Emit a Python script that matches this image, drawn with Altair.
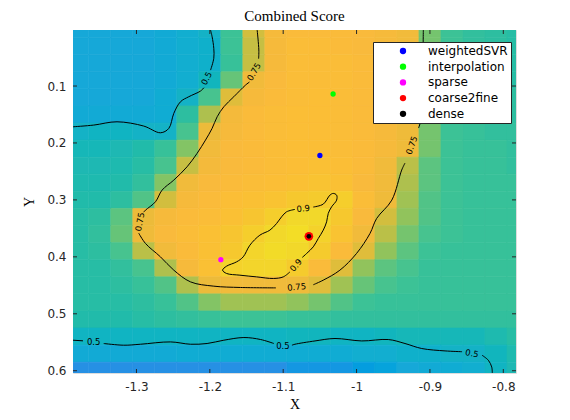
import altair as alt
import pandas as pd

# ---------------- data ----------------
X_CENTERS = [-1.38, -1.35, -1.32, -1.29, -1.26, -1.23, -1.20, -1.17, -1.14, -1.11, -1.08,
             -1.05, -1.02, -0.99, -0.96, -0.93, -0.90, -0.87, -0.84, -0.81, -0.78]
Y_CENTERS = [0.00, 0.03, 0.06, 0.09, 0.12, 0.15, 0.18, 0.21, 0.24, 0.27, 0.30,
             0.33, 0.36, 0.39, 0.42, 0.45, 0.48, 0.51, 0.54, 0.57, 0.60]
CELL = 0.03

SCORE = [
    [.45, .45, .45, .45, .46, .48, .50, .61, .73, .79, .81, .81, .81, .80, .79, .77, .66, .61, .59, .58, .57],
    [.45, .45, .45, .45, .46, .48, .49, .61, .72, .79, .82, .82, .81, .80, .79, .77, .66, .61, .59, .58, .57],
    [.45, .45, .45, .45, .46, .48, .49, .60, .72, .79, .82, .82, .82, .81, .79, .77, .66, .61, .59, .58, .57],
    [.45, .45, .45, .45, .46, .48, .52, .65, .77, .80, .82, .82, .82, .81, .79, .77, .66, .61, .59, .58, .57],
    [.45, .45, .45, .45, .47, .50, .62, .74, .79, .81, .82, .83, .82, .81, .79, .77, .66, .61, .60, .59, .58],
    [.46, .46, .46, .46, .47, .58, .70, .78, .81, .82, .83, .83, .82, .81, .79, .77, .66, .61, .60, .59, .58],
    [.50, .51, .51, .50, .50, .62, .75, .79, .81, .82, .83, .83, .82, .81, .79, .76, .66, .61, .60, .59, .59],
    [.53, .53, .54, .56, .60, .67, .77, .80, .81, .82, .83, .83, .82, .81, .79, .76, .66, .61, .60, .60, .59],
    [.54, .54, .55, .57, .62, .72, .78, .80, .81, .82, .83, .84, .83, .81, .77, .71, .64, .61, .60, .60, .59],
    [.55, .55, .56, .59, .67, .77, .80, .81, .82, .83, .84, .85, .84, .80, .77, .70, .64, .61, .60, .60, .60],
    [.56, .56, .58, .63, .73, .79, .81, .83, .84, .85, .87, .88, .89, .82, .76, .69, .63, .61, .60, .60, .60],
    [.57, .58, .64, .75, .79, .81, .82, .84, .86, .89, .92, .92, .87, .80, .73, .68, .63, .61, .60, .60, .60],
    [.57, .59, .65, .76, .80, .82, .84, .86, .89, .92, .94, .90, .85, .77, .71, .66, .62, .61, .60, .60, .60],
    [.57, .58, .62, .71, .77, .81, .84, .87, .91, .93, .92, .88, .81, .74, .68, .64, .61, .60, .60, .60, .60],
    [.57, .57, .59, .62, .70, .79, .84, .90, .91, .91, .88, .81, .74, .68, .64, .62, .60, .60, .60, .60, .60],
    [.57, .57, .58, .60, .63, .70, .75, .77, .77, .77, .76, .74, .69, .65, .62, .61, .60, .60, .60, .60, .60],
    [.57, .57, .57, .58, .60, .63, .67, .69, .69, .69, .68, .66, .63, .61, .60, .60, .60, .60, .60, .60, .60],
    [.56, .56, .56, .57, .58, .59, .60, .61, .61, .61, .60, .60, .59, .59, .59, .59, .59, .59, .59, .59, .59],
    [.51, .51, .51, .51, .51, .51, .51, .51, .51, .51, .52, .52, .51, .51, .52, .53, .53, .53, .53, .55, .57],
    [.46, .46, .46, .46, .46, .47, .47, .47, .47, .47, .47, .47, .47, .48, .48, .49, .49, .50, .50, .52, .55],
    [.41, .41, .41, .41, .41, .41, .41, .41, .41, .41, .42, .42, .42, .43, .44, .45, .46, .47, .48, .51, .54],
]

# colour map (parula-like) stops
HEAT_STOPS = [0.38, 0.41, 0.45, 0.48, 0.50, 0.54, 0.58, 0.61, 0.65, 0.70, 0.75, 0.80, 0.83, 0.87, 0.92, 0.96]
HEAT_COLORS = ["#2C85EA", "#2690E4", "#16A8D8", "#12AED0", "#14B2C6", "#1EB8B3", "#2DBEA0", "#3CC296",
               "#66C478", "#AEC04E", "#ECBB3A", "#F9BA3C", "#FBBE36", "#F6C82E", "#F2D82A", "#F3E322"]

# contour segments (traced)
CONTOUR_SEGMENTS = {
    "A": [(-1.3865, 0.1716), (-1.3583, 0.1686), (-1.3265, 0.1628), (-1.2901, 0.1703), (-1.2673, 0.1821),
          (-1.2559, 0.1744), (-1.2491, 0.1480), (-1.2400, 0.1276), (-1.2287, 0.1188), (-1.2127, 0.1088),
          (-1.2080, 0.1030)],
    "B": [(-1.1990, 0.0720), (-1.1946, 0.0513), (-1.1946, 0.0338), (-1.1969, 0.0134), (-1.1991, 0.0016)],
    "C": [(-1.1355, 0.0016), (-1.1332, 0.0367), (-1.1335, 0.0520)],
    "D": [(-1.1460, 0.0930), (-1.1513, 0.0983), (-1.1673, 0.1188), (-1.1809, 0.1364), (-1.1900, 0.1540),
          (-1.1969, 0.1744), (-1.2059, 0.1949), (-1.2174, 0.2183), (-1.2310, 0.2418), (-1.2491, 0.2652),
          (-1.2651, 0.2828), (-1.2741, 0.3033), (-1.2877, 0.3180), (-1.2901, 0.3215)],
    "E": [(-1.2969, 0.3584), (-1.2877, 0.3765), (-1.2673, 0.4000), (-1.2491, 0.4234), (-1.2263, 0.4440),
          (-1.1946, 0.4515), (-1.1582, 0.4538), (-1.1100, 0.4545)],
    "F": [(-1.0590, 0.4490), (-1.0455, 0.4410), (-1.0227, 0.4234), (-1.0000, 0.3940), (-0.9817, 0.3589),
          (-0.9726, 0.3325), (-0.9520, 0.3004), (-0.9385, 0.2476), (-0.9340, 0.2353)],
    "G": [(-0.9156, 0.1738), (-0.9135, 0.1656), (-0.9120, 0.1200), (-0.9100, 0.0700), (-0.9090, 0.0016)],
    "H": [(-1.0590, 0.3125), (-1.0454, 0.3074), (-1.0363, 0.2916), (-1.0318, 0.2886), (-1.0272, 0.2916),
          (-1.0272, 0.3004), (-1.0340, 0.3121), (-1.0386, 0.3237), (-1.0408, 0.3385), (-1.0454, 0.3531),
          (-1.0522, 0.3677), (-1.0590, 0.3824), (-1.0680, 0.3940), (-1.0740, 0.4010)],
    "I": [(-1.0908, 0.4264), (-1.0999, 0.4352), (-1.1135, 0.4380), (-1.1362, 0.4352), (-1.1590, 0.4322),
          (-1.1772, 0.4292), (-1.1826, 0.4234), (-1.1772, 0.4164), (-1.1635, 0.4088), (-1.1545, 0.4000),
          (-1.1454, 0.3795), (-1.1318, 0.3619), (-1.1181, 0.3531), (-1.1090, 0.3414), (-1.1022, 0.3297),
          (-1.0954, 0.3209), (-1.0840, 0.3167)],
    "J": [(-1.3865, 0.5464), (-1.3729, 0.5475)],
    "K": [(-1.3446, 0.5522), (-1.3174, 0.5552), (-1.2946, 0.5535), (-1.2536, 0.5494), (-1.2263, 0.5535),
          (-1.2037, 0.5522), (-1.1809, 0.5464), (-1.1536, 0.5417), (-1.1308, 0.5452), (-1.1127, 0.5522)],
    "L": [(-1.0881, 0.5552), (-1.0840, 0.5535), (-1.0567, 0.5477), (-1.0294, 0.5434), (-0.9930, 0.5477),
          (-0.9568, 0.5452), (-0.9340, 0.5522), (-0.9112, 0.5610), (-0.8794, 0.5652), (-0.8562, 0.5666)],
    "M": [(-0.8290, 0.5728), (-0.8204, 0.5816), (-0.8158, 0.5934), (-0.8150, 0.6044)],
}

LABEL_TEXT = ["0.5", "0.75", "0.75", "0.75", "0.75", "0.9", "0.9", "0.5", "0.5", "0.5"]
LABEL_X = [-1.2045, -1.1400, -1.2955, -1.0817, -0.9250, -1.0727, -1.0827, -1.3583, -1.1004, -0.8426]
LABEL_Y = [0.0865, 0.0749, 0.3385, 0.4528, 0.2040, 0.3150, 0.4146, 0.5494, 0.5561, 0.5693]
LABEL_ANGLE = [298, 300, 280, 355, 290, 355, 310, 0, 0, 10]

METHODS = ["weightedSVR", "interpolation", "sparse", "coarse2fine", "dense"]
METHOD_X = [-1.050, -1.032, -1.185, -1.065, -1.065]
METHOD_Y = [0.222, 0.114, 0.405, 0.364, 0.364]
METHOD_COLORS = ["#0000FF", "#00FF00", "#FF00FF", "#FF0000", "#000000"]
METHOD_SIZES = [28, 28, 28, 75, 22]

X_TICKS = [-1.3, -1.2, -1.1, -1, -0.9, -0.8]
Y_TICKS = [0.1, 0.2, 0.3, 0.4, 0.5, 0.6]
X_DOMAIN = [-1.3865, -0.7827]
Y_DOMAIN = [0.0016, 0.604]

# ---------------- frames ----------------
heat_rows = []
for j, yc in enumerate(Y_CENTERS):
    for i, xc in enumerate(X_CENTERS):
        heat_rows.append({"x0": xc - CELL / 2, "x1": xc + CELL / 2,
                          "y0": yc - CELL / 2, "y1": yc + CELL / 2, "score": SCORE[j][i]})
heat_df = pd.DataFrame(heat_rows)

cont_rows = []
for seg, pts in CONTOUR_SEGMENTS.items():
    for k, (cx, cy) in enumerate(pts):
        cont_rows.append({"seg": seg, "ord": k, "x": cx, "y": cy})
cont_df = pd.DataFrame(cont_rows)

lab_df = pd.DataFrame({"t": LABEL_TEXT, "x": LABEL_X, "y": LABEL_Y, "a": LABEL_ANGLE})
pts_df = pd.DataFrame({"name": METHODS, "x": METHOD_X, "y": METHOD_Y, "sz": METHOD_SIZES})
xt_df = pd.DataFrame({"v": X_TICKS})
yt_df = pd.DataFrame({"v": Y_TICKS})

W, H = 443, 343
AX = "#262626"

xs = alt.Scale(domain=X_DOMAIN, nice=False, zero=False)
ys = alt.Scale(domain=Y_DOMAIN, nice=False, zero=False, reverse=True)

x_axis = alt.Axis(values=X_TICKS, labelExpr="'' + datum.value", ticks=False, domain=False, grid=False,
                  title="X", titleFont="Liberation Serif", titleFontSize=14, titleFontWeight="normal",
                  titleColor="#000", labelFont="DejaVu Sans", labelFontSize=12, labelColor=AX,
                  labelPadding=8, titlePadding=5, labelFlush=False, labelOverlap=False)
y_axis = alt.Axis(values=Y_TICKS, labelExpr="'' + datum.value", ticks=False, domain=False, grid=False,
                  title="Y", titleFont="Liberation Serif", titleFontSize=14, titleFontWeight="normal",
                  titleColor="#000", labelFont="DejaVu Sans", labelFontSize=12, labelColor=AX,
                  labelPadding=7, titlePadding=10, labelFlush=False, labelOverlap=False)


def X(f):
    return alt.X(f, type="quantitative", scale=xs, axis=x_axis)


def Y(f):
    return alt.Y(f, type="quantitative", scale=ys, axis=y_axis)


heat_scale = alt.Scale(type="linear", domain=HEAT_STOPS, range=HEAT_COLORS, clamp=True)

heat = alt.Chart(heat_df).mark_rect(clip=True, strokeWidth=0.6).encode(
    x=X("x0"), x2="x1", y=Y("y0"), y2="y1",
    fill=alt.Fill("score:Q", scale=heat_scale, legend=None),
    stroke=alt.Stroke("score:Q", scale=heat_scale, legend=None),
)

lines = alt.Chart(cont_df).mark_line(color="#000", strokeWidth=1, interpolate="catmull-rom", clip=True).encode(
    x=X("x"), y=Y("y"), detail="seg:N", order="ord:Q"
)

labels = alt.Chart(lab_df).mark_text(font="DejaVu Sans", fontSize=8.5, color="#000").encode(
    x=X("x"), y=Y("y"), text="t:N", angle=alt.Angle("a:Q", scale=None)
)

points = alt.Chart(pts_df).mark_circle(opacity=1).encode(
    x=X("x"), y=Y("y"),
    color=alt.Color("name:N", scale=alt.Scale(domain=METHODS, range=METHOD_COLORS),
                    legend=alt.Legend(title=None, orient="none", legendX=300, legendY=12,
                                      fillColor="white", strokeColor=AX, padding=3,
                                      symbolType="circle", symbolSize=40, symbolStrokeWidth=0,
                                      symbolOffset=21, labelOffset=19, labelFont="DejaVu Sans",
                                      labelFontSize=12, labelColor="#000", rowPadding=3.7)),
    size=alt.Size("sz:Q", scale=None),
)

xt_bot = alt.Chart(xt_df).mark_rule(color=AX, strokeWidth=1).encode(x=X("v"), y=alt.value(H), y2=alt.value(H - 4))
xt_top = alt.Chart(xt_df).mark_rule(color=AX, strokeWidth=1).encode(x=X("v"), y=alt.value(0), y2=alt.value(4))
yt_left = alt.Chart(yt_df).mark_rule(color=AX, strokeWidth=1).encode(y=Y("v"), x=alt.value(0), x2=alt.value(4))
yt_right = alt.Chart(yt_df).mark_rule(color=AX, strokeWidth=1).encode(y=Y("v"), x=alt.value(W - 4), x2=alt.value(W))

chart = alt.layer(heat, lines, labels, xt_bot, xt_top, yt_left, yt_right, points).properties(
    width=W, height=H,
    autosize=alt.AutoSizeParams(type="none"),
    padding={"left": 65, "top": 22, "right": 40, "bottom": 40},
    title=alt.Title("Combined Score", font="Liberation Serif", fontSize=15, fontWeight="normal",
                    color="#000", anchor="middle", frame="group", offset=6),
).configure_view(stroke=AX, strokeWidth=1).configure(background="white")

chart.save("out.html", embed_options={"renderer": "svg", "actions": False})
